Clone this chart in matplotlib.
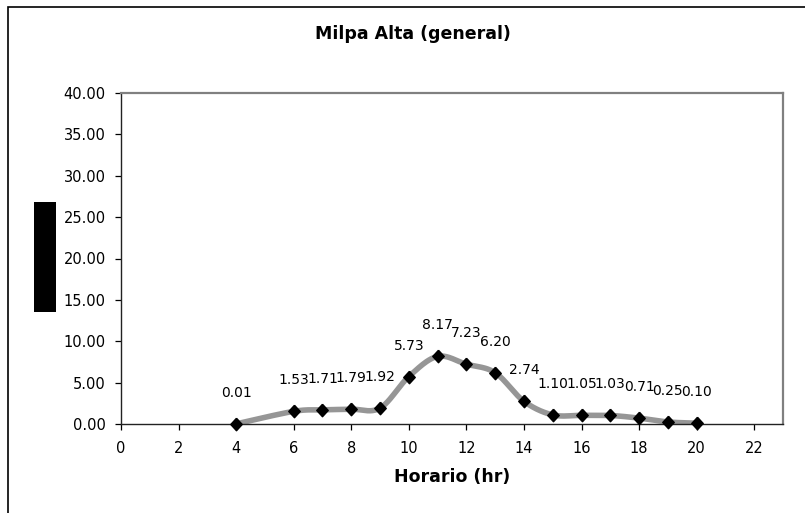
import numpy as np
import matplotlib
matplotlib.use("Agg")
import matplotlib.pyplot as plt
from matplotlib.patches import Rectangle
from matplotlib.ticker import FormatStrFormatter

# Hourly values for Milpa Alta
hours = [4, 6, 7, 8, 9, 10, 11, 12, 13, 14, 15, 16, 17, 18, 19, 20]
values = [0.01, 1.53, 1.71, 1.79, 1.92, 5.73, 8.17, 7.23, 6.20, 2.74,
          1.10, 1.05, 1.03, 0.71, 0.25, 0.10]

title = "Milpa Alta (general)"
xlabel = "Horario (hr)"
xticks = list(range(0, 23, 2))
yticks = list(range(0, 41, 5))

W, H, DPI = 805, 513, 100
fig = plt.figure(figsize=(W / DPI, H / DPI), dpi=DPI)
fig.patch.set_facecolor("white")

# outer chart border (runs off the right and bottom edges)
fig.patches.append(Rectangle((8 / W, -0.1), 1.2, (H - 7) / H + 0.1,
                             transform=fig.transFigure, fill=False,
                             edgecolor="black", linewidth=1.2, zorder=0))

ax = fig.add_axes([121 / W, 89 / H, (783 - 121) / W, (424 - 93) / H])


def smooth_path(x, y, n=24):
    """Bezier smoothing through the points (Excel-style smoothed line)."""
    p = np.column_stack([x, y]).astype(float)
    out = [p[0]]
    t = np.linspace(0, 1, n)[1:, None]
    for i in range(len(p) - 1):
        p0 = p[max(i - 1, 0)]
        p1 = p[i]
        p2 = p[i + 1]
        p3 = p[min(i + 2, len(p) - 1)]
        c1 = p1 + (p2 - p0) / 6.0
        c2 = p2 - (p3 - p1) / 6.0
        seg = ((1 - t) ** 3) * p1 + 3 * ((1 - t) ** 2) * t * c1 \
            + 3 * (1 - t) * t ** 2 * c2 + t ** 3 * p2
        out.extend(seg)
    out = np.array(out)
    return out[:, 0], out[:, 1]


sx, sy = smooth_path(hours, values)
ax.plot(sx, sy, color="#969696", linewidth=4.0, solid_capstyle="butt",
        zorder=2)

diamond = [(0, 1), (0.92, 0), (0, -1), (-0.92, 0), (0, 1)]
ax.plot(hours, values, linestyle="none", marker=diamond, markersize=9,
        color="black", zorder=3, clip_on=False)

for hx, v in zip(hours, values):
    ax.annotate(f"{v:.2f}", (hx, v), xytext=(0, 31), textcoords="offset pixels",
                ha="center", va="center", fontsize=10,
                family="DejaVu Sans", color="black", zorder=4)

ax.set_xlim(0, 23)
ax.set_ylim(0, 40)
ax.set_xticks(xticks)
ax.set_yticks(yticks)
ax.yaxis.set_major_formatter(FormatStrFormatter("%.2f"))
ax.tick_params(axis="both", direction="out", length=4, width=0.9,
               labelsize=10.5, colors="black")
ax.tick_params(axis="x", pad=8)
ax.tick_params(axis="y", pad=7)
for lab in ax.get_xticklabels() + ax.get_yticklabels():
    lab.set_family("DejaVu Sans")

for side in ("top", "right"):
    ax.spines[side].set_color("#808080")
    ax.spines[side].set_linewidth(1.6)
for side in ("left", "bottom"):
    ax.spines[side].set_color("#222222")
    ax.spines[side].set_linewidth(1.0)

fig.text(413 / W, 1 - 34 / H, title, ha="center", va="center",
         fontsize=12.5, fontweight="bold", family="DejaVu Sans")
fig.text(452 / W, 1 - 477 / H, xlabel, ha="center", va="center",
         fontsize=12.5, fontweight="bold", family="DejaVu Sans")

# filled block beside the value axis
fig.patches.append(Rectangle((34 / W, 1 - 312 / H), 22 / W, 110 / H,
                             transform=fig.transFigure, facecolor="black",
                             edgecolor="none", zorder=1))

fig.savefig("out.png", dpi=DPI)
